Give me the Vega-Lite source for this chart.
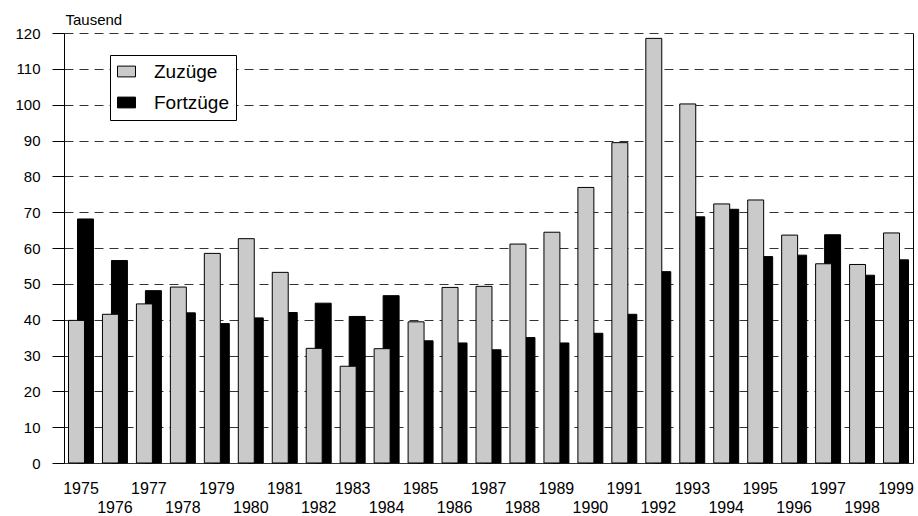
{
  "$schema": "https://vega.github.io/schema/vega-lite/v6.json",
  "width": 849,
  "height": 430,
  "autosize": "none",
  "padding": {"left": 64, "top": 33, "right": 5, "bottom": 53},
  "background": "white",
  "config": {
    "font": "Liberation Sans",
    "view": {"stroke": null},
    "axis": {"labelFont": "Liberation Sans", "titleFont": "Liberation Sans", "labelColor": "#000", "titleColor": "#000"}
  },
  "data": {"values": [
    {"Jahr": "1975", "Art": "Zuzüge", "Wert": 39.8}, {"Jahr": "1975", "Art": "Fortzüge", "Wert": 68.1},
    {"Jahr": "1976", "Art": "Zuzüge", "Wert": 41.5}, {"Jahr": "1976", "Art": "Fortzüge", "Wert": 56.5},
    {"Jahr": "1977", "Art": "Zuzüge", "Wert": 44.4}, {"Jahr": "1977", "Art": "Fortzüge", "Wert": 48.1},
    {"Jahr": "1978", "Art": "Zuzüge", "Wert": 49.1}, {"Jahr": "1978", "Art": "Fortzüge", "Wert": 41.9},
    {"Jahr": "1979", "Art": "Zuzüge", "Wert": 58.5}, {"Jahr": "1979", "Art": "Fortzüge", "Wert": 38.9},
    {"Jahr": "1980", "Art": "Zuzüge", "Wert": 62.6}, {"Jahr": "1980", "Art": "Fortzüge", "Wert": 40.5},
    {"Jahr": "1981", "Art": "Zuzüge", "Wert": 53.2}, {"Jahr": "1981", "Art": "Fortzüge", "Wert": 42.0},
    {"Jahr": "1982", "Art": "Zuzüge", "Wert": 32.0}, {"Jahr": "1982", "Art": "Fortzüge", "Wert": 44.6},
    {"Jahr": "1983", "Art": "Zuzüge", "Wert": 27.0}, {"Jahr": "1983", "Art": "Fortzüge", "Wert": 40.9},
    {"Jahr": "1984", "Art": "Zuzüge", "Wert": 31.9}, {"Jahr": "1984", "Art": "Fortzüge", "Wert": 46.7},
    {"Jahr": "1985", "Art": "Zuzüge", "Wert": 39.4}, {"Jahr": "1985", "Art": "Fortzüge", "Wert": 34.1},
    {"Jahr": "1986", "Art": "Zuzüge", "Wert": 49.0}, {"Jahr": "1986", "Art": "Fortzüge", "Wert": 33.5},
    {"Jahr": "1987", "Art": "Zuzüge", "Wert": 49.3}, {"Jahr": "1987", "Art": "Fortzüge", "Wert": 31.6},
    {"Jahr": "1988", "Art": "Zuzüge", "Wert": 61.1}, {"Jahr": "1988", "Art": "Fortzüge", "Wert": 35.0},
    {"Jahr": "1989", "Art": "Zuzüge", "Wert": 64.4}, {"Jahr": "1989", "Art": "Fortzüge", "Wert": 33.5},
    {"Jahr": "1990", "Art": "Zuzüge", "Wert": 76.9}, {"Jahr": "1990", "Art": "Fortzüge", "Wert": 36.2},
    {"Jahr": "1991", "Art": "Zuzüge", "Wert": 89.4}, {"Jahr": "1991", "Art": "Fortzüge", "Wert": 41.5},
    {"Jahr": "1992", "Art": "Zuzüge", "Wert": 118.5}, {"Jahr": "1992", "Art": "Fortzüge", "Wert": 53.4},
    {"Jahr": "1993", "Art": "Zuzüge", "Wert": 100.2}, {"Jahr": "1993", "Art": "Fortzüge", "Wert": 68.7},
    {"Jahr": "1994", "Art": "Zuzüge", "Wert": 72.3}, {"Jahr": "1994", "Art": "Fortzüge", "Wert": 70.8},
    {"Jahr": "1995", "Art": "Zuzüge", "Wert": 73.4}, {"Jahr": "1995", "Art": "Fortzüge", "Wert": 57.6},
    {"Jahr": "1996", "Art": "Zuzüge", "Wert": 63.6}, {"Jahr": "1996", "Art": "Fortzüge", "Wert": 58.0},
    {"Jahr": "1997", "Art": "Zuzüge", "Wert": 55.6}, {"Jahr": "1997", "Art": "Fortzüge", "Wert": 63.7},
    {"Jahr": "1998", "Art": "Zuzüge", "Wert": 55.4}, {"Jahr": "1998", "Art": "Fortzüge", "Wert": 52.4},
    {"Jahr": "1999", "Art": "Zuzüge", "Wert": 64.2}, {"Jahr": "1999", "Art": "Fortzüge", "Wert": 56.7}
  ]},
  "encoding": {
    "x": {
      "field": "Jahr", "type": "ordinal",
      "scale": {"paddingInner": 0, "paddingOuter": 0},
      "axis": {
        "title": null, "labelAngle": 0, "ticks": false, "labelPadding": 17,
        "labelFontSize": 16, "labelLineHeight": 19, "labelOverlap": false, "labelBound": false,
        "labelBaseline": "top",
        "labelExpr": "toNumber(datum.value) % 2 == 1 ? datum.label : ['', datum.label]",
        "domainColor": "#333", "domainWidth": 1
      }
    },
    "color": {
      "field": "Art", "type": "nominal",
      "scale": {"domain": ["Zuzüge", "Fortzüge"], "range": ["#cacaca", "#000000"]},
      "legend": {
        "title": null, "orient": "none", "legendX": 46, "legendY": 22,
        "strokeColor": "#000", "fillColor": "#fff", "padding": 7,
        "labelFontSize": 19, "labelFont": "Liberation Sans", "labelColor": "#000",
        "labelOffset": 18, "rowPadding": 11, "labelLimit": 400,
        "symbolType": "M-1,-0.6H1V0.6H-1Z", "symbolSize": 324,
        "symbolStrokeColor": "#000", "symbolStrokeWidth": 1,
        "labelExpr": "datum.label + '\u2003\u2003\u2003\u2003\u2003'"
      }
    }
  },
  "layer": [
    {
      "transform": [{"filter": "datum.Art == 'Fortzüge'"}],
      "mark": {"type": "bar", "width": {"band": 0.47}, "xOffset": 4.5, "stroke": "#000", "strokeWidth": 1},
      "encoding": {
        "y": {
          "field": "Wert", "type": "quantitative",
          "scale": {"domain": [0, 120], "nice": false, "zero": true},
          "axis": {
            "title": "Tausend", "titleAngle": 0, "titleAlign": "left", "titleBaseline": "alphabetic",
            "titleX": 1, "titleY": -9, "titleFontSize": 15, "titleFontWeight": "normal",
            "values": [0, 10, 20, 30, 40, 50, 60, 70, 80, 90, 100, 110, 120],
            "labelFontSize": 15, "labelPadding": 12, "tickSize": 12, "tickColor": "#000",
            "domainColor": "#000", "grid": true, "gridDash": [9, 6], "gridColor": "#333", "gridWidth": 1
          }
        }
      }
    },
    {
      "transform": [{"filter": "datum.Art == 'Zuzüge'"}],
      "mark": {"type": "bar", "width": {"band": 0.47}, "xOffset": -4.5, "stroke": "#000", "strokeWidth": 1},
      "encoding": {
        "y": {
          "field": "Wert", "type": "quantitative",
          "scale": {"domain": [0, 120], "nice": false, "zero": true},
          "axis": {"orient": "right", "title": null, "labels": false, "ticks": false, "grid": false, "domain": true, "domainColor": "#000"}
        }
      }
    }
  ],
  "resolve": {"scale": {"y": "independent"}}
}
